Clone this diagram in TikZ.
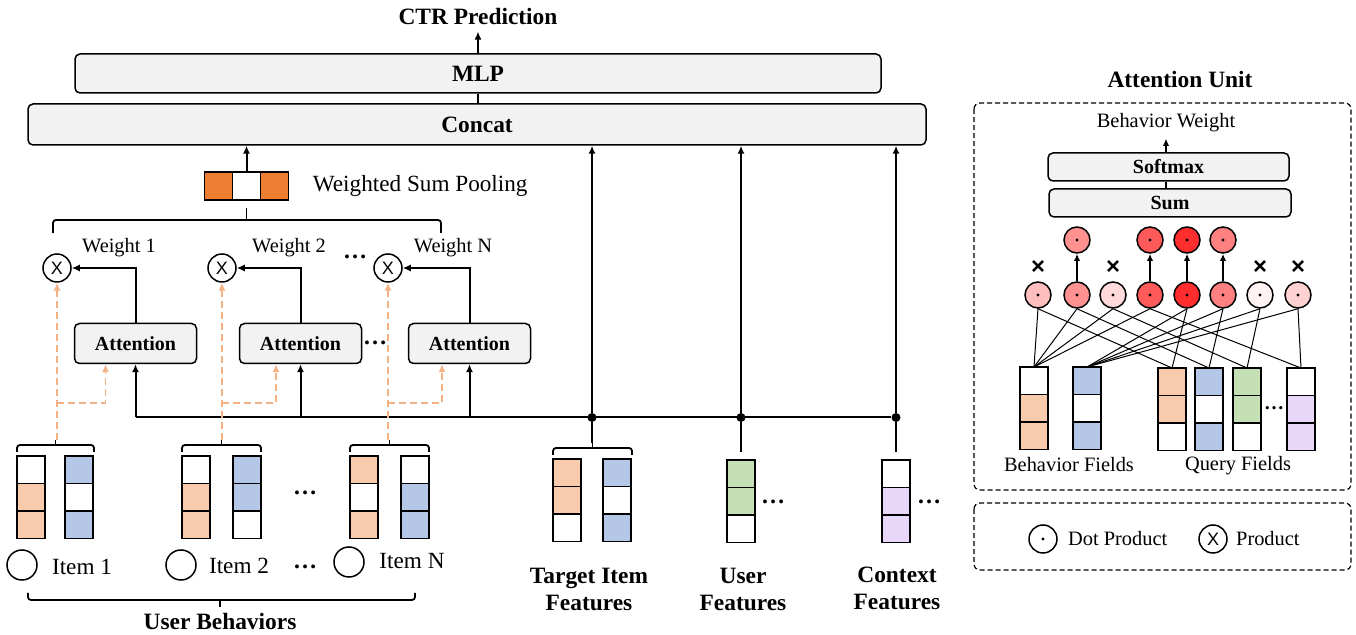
\documentclass[tikz,border=0pt]{standalone}
\usepackage{fontspec}
\setmainfont{Liberation Serif}
\newfontfamily\xsans{Liberation Sans}
\usetikzlibrary{positioning,arrows.meta}

\definecolor{boxgray}{RGB}{242,242,242}
\definecolor{cOr}{RGB}{248,203,173}
\definecolor{cBl}{RGB}{180,199,231}
\definecolor{cGr}{RGB}{197,224,180}
\definecolor{cPu}{RGB}{233,215,250}
\definecolor{poolor}{RGB}{237,125,49}
\definecolor{dashor}{RGB}{244,177,131}
\definecolor{heat1}{RGB}{255,190,190}
\definecolor{heat2}{RGB}{255,145,145}
\definecolor{heat3}{RGB}{255,218,218}
\definecolor{heat4}{RGB}{255,90,90}
\definecolor{heat5}{RGB}{255,45,45}
\definecolor{heat6}{RGB}{255,128,128}
\definecolor{heat7}{RGB}{255,242,242}
\definecolor{heat8}{RGB}{255,210,210}

\newcommand{\bigbf}{\fontsize{11.7}{13.5}\selectfont\bfseries}
\newcommand{\bigrm}{\fontsize{11.6}{13.5}\selectfont}
\newcommand{\midrm}{\fontsize{10.2}{12}\selectfont}
\newcommand{\smbf}{\fontsize{10}{12}\selectfont\bfseries}

\tikzset{
  blk/.style={draw, fill=boxgray, rounded corners=2.5pt, line width=0.75pt, inner sep=0pt},
  cell/.style={draw, line width=0.75pt, minimum width=14pt, minimum height=13.75pt, inner sep=0pt, outer sep=0pt},
  pool/.style={draw, line width=0.75pt, minimum width=14pt, minimum height=14pt, inner sep=0pt, outer sep=0pt},
  arr/.style={-{Latex[length=4pt,width=3.6pt]}, line width=1pt},
  thinarr/.style={-{Latex[length=3.6pt,width=3.2pt]}, line width=0.8pt},
  bus/.style={line width=1pt},
  brk/.style={line width=0.9pt, rounded corners=1.5pt},
  dasharr/.style={-{Latex[length=4pt,width=3.6pt]}, draw=dashor, line width=0.9pt, dash pattern=on 3.5pt off 2pt},
  prod/.style={draw, circle, minimum size=14pt, inner sep=0pt, line width=0.75pt, font=\xsans\fontsize{9}{9}\selectfont},
  dotc/.style={draw, circle, minimum size=13pt, inner sep=0pt, line width=0.75pt,
    path picture={\fill[black] (path picture bounding box.center) circle (0.8pt);}},
  itemc/.style={draw, circle, minimum size=15pt, inner sep=0pt, line width=0.75pt},
  jdot/.style={circle, fill, minimum size=4.5pt, inner sep=0pt},
  dotsn/.style={font=\fontsize{12}{12}\selectfont\bfseries, inner sep=1pt},
  xmark/.style={font=\xsans\bfseries\fontsize{12}{12}\selectfont, inner sep=0pt},
  frame/.style={line width=0.6pt, dash pattern=on 2.5pt off 1.5pt, rounded corners=3pt},
  link/.style={line width=0.5pt},
}

\newcommand{\fieldcol}[5]{%
  \node[cell, fill=#3, anchor=north west] (#1-1) at (#2) {};
  \node[cell, fill=#4, below=0pt of #1-1] (#1-2) {};
  \node[cell, fill=#5, below=0pt of #1-2] (#1-3) {};
}
\newcommand{\topbrk}[4]{%
  \draw[brk] (#1,#3+7) -- (#1,#3) -- (#2,#3) -- (#2,#3+7);
  \draw[brk] ({(#1+#2)/2},#3) -- ({(#1+#2)/2},#3-5) coordinate (#4);
}

\begin{document}
\begin{tikzpicture}[x=0.5pt, y=-0.5pt, inner sep=3pt]
\useasboundingbox (0,0) rectangle (1356,635);

% prediction head
\node[blk, minimum width=449pt, minimum height=20.5pt, font=\bigbf] (concat) at (477,124.5) {Concat};
\node[blk, minimum width=403pt, minimum height=19.5pt, font=\bigbf] (mlp) at (478,73.5) {MLP};
\node[font=\bigbf] (ctr) at (478,17) {CTR Prediction};
\draw[arr] (mlp.north) -- (ctr.south);
\draw[bus] (mlp.south) -- (mlp.south |- concat.north);

% pooling
\node[pool, fill=white] (p2) at (246.5,186) {};
\node[pool, fill=poolor, left=0pt of p2] (p1) {};
\node[pool, fill=poolor, right=0pt of p2] (p3) {};
\node[font=\bigrm, right=9pt of p3] (pooltxt) {Weighted Sum Pooling};
\draw[arr] (p2.north) -- (p2.north |- concat.south);
\draw[brk] (53,233) -- (53,220) -- (441,220) -- (441,233);
\draw[brk] (246.5,220) -- (246.5,208);

% attention blocks
\node[blk, minimum width=61pt, minimum height=20pt, font=\smbf] (att1) at (135.5,343.5) {Attention};
\node[blk, minimum width=61pt, minimum height=20pt, font=\smbf] (att2) at (300.5,343.5) {Attention};
\node[blk, minimum width=61pt, minimum height=20pt, font=\smbf] (att3) at (469.5,343.5) {Attention};
\node[prod] (x1) at (57,268) {X};
\node[prod] (x2) at (222,268) {X};
\node[prod] (x3) at (388,268) {X};
\node[font=\midrm] (w1) at (119,248) {Weight 1};
\node[font=\midrm] (w2) at (289,248) {Weight 2};
\node[font=\midrm] (w3) at (453,248) {Weight N};
\node[dotsn] (e1) at (355,257) {…};
\node[dotsn] (e2) at (375,343) {…};
\draw[arr] (att1.north) |- (x1.east);
\draw[arr] (att2.north) |- (x2.east);
\draw[arr] (att3.north) |- (x3.east);

% bus
\node[jdot] (d1) at (592,417.5) {};
\node[jdot] (d2) at (741,417.5) {};
\node[jdot] (d3) at (896,417.5) {};
\draw[bus] (att1.south |- d1) -- (d3);
\foreach \a in {att1,att2,att3} \draw[arr] (\a.south |- d1) -- (\a.south);
\foreach \d in {d1,d2,d3} \draw[arr] (\d) -- (\d |- concat.south);

% user behaviors
\fieldcol{ia}{17,456}{white}{cOr}{cOr}
\fieldcol{ib}{65,456}{cBl}{white}{cBl}
\fieldcol{ja}{182,456}{white}{cOr}{cOr}
\fieldcol{jb}{233,456}{cBl}{cBl}{white}
\fieldcol{ka}{350,456}{cOr}{white}{cOr}
\fieldcol{kb}{401,456}{white}{cBl}{cBl}
\topbrk{17}{94}{445}{b1}
\topbrk{182}{261}{445}{b2}
\topbrk{350}{429}{445}{b3}
\coordinate (dl) at (0,403);
\draw[dasharr] (x1 |- b1) -- (x1.south);
\draw[dasharr] (x2 |- b2) -- (x2.south);
\draw[dasharr] (x3 |- b3) -- (x3.south);
\draw[dasharr] (x1 |- dl) -| ([xshift=-15pt]att1.south);
\draw[dasharr] (x2 |- dl) -| ([xshift=-12.25pt]att2.south);
\draw[dasharr] (x3 |- dl) -| ([xshift=-13.75pt]att3.south);
\node[dotsn] (e3) at (305,493) {…};
\node[itemc] (o1) at (22,565) {};
\node[itemc] (o2) at (181,565) {};
\node[itemc] (o3) at (349,562) {};
\node[font=\bigrm] (l1) at (82,567) {Item 1};
\node[font=\bigrm] (l2) at (239,566) {Item 2};
\node[font=\bigrm] (l3) at (412,561) {Item N};
\node[dotsn] (e4) at (305,567) {…};
\draw[brk] (28,593) -- (28,600) -- (415,600) -- (415,593);
\draw[brk] (220,600) -- (220,607);
\node[font=\bigbf] (ub) at (220,621) {User Behaviors};

% other features
\fieldcol{ta}{553,459}{cOr}{cOr}{white}
\fieldcol{tbb}{603,459}{cBl}{white}{cBl}
\fieldcol{uf}{727,460}{cGr}{cGr}{white}
\fieldcol{cf}{882,460}{white}{cPu}{cPu}
\topbrk{553}{632}{448}{tb}
\draw[bus] (d1) -- (d1 |- tb);
\draw[bus] (d2) -- ([yshift=4pt]d2 |- uf-1.north);
\draw[bus] (d3) -- ([yshift=4pt]d3 |- cf-1.north);
\node[dotsn] (e5) at (773,502) {…};
\node[dotsn] (e6) at (929,502) {…};
\node[font=\bigbf, align=center] (tl) at (589,589) {Target Item\\Features};
\node[font=\bigbf, align=center] (ul) at (743,589) {User\\Features};
\node[font=\bigbf, align=center] (cl) at (897,588) {Context\\Features};

% attention unit
\node[font=\bigbf] (autitle) at (1180,80) {Attention Unit};
\draw[frame] (974,103) rectangle (1351,490);
\node[font=\midrm] (bw) at (1166,123) {Behavior Weight};
\node[blk, minimum width=120.5pt, minimum height=14pt, font=\smbf] (soft) at (1168.5,167) {Softmax};
\node[blk, minimum width=121pt, minimum height=14pt, font=\smbf] (sum) at (1170,203) {Sum};
\draw[line width=0.75pt] (sum.north -| bw) -- (soft.south -| bw);
\draw[thinarr] (soft.north -| bw) -- (bw.south);
\foreach \i/\x in {1/1038,2/1077,3/1113,4/1150,5/1187,6/1223,7/1260,8/1298}
  \node[dotc, fill=heat\i] (c\i) at (\x,295) {};
\foreach \i in {2,4,5,6} {
  \node[dotc, fill=heat\i] (t\i) at (c\i.center |- 0,240) {};
  \draw[thinarr] (c\i.north) -- (t\i.south);
}
\foreach \i in {1,3,7,8}
  \node[xmark] (m\i) at (c\i.center |- 0,268) {×};
\fieldcol{bf1}{1020,367}{white}{cOr}{cOr}
\fieldcol{bf2}{1073,367}{cBl}{white}{cBl}
\fieldcol{qa}{1158,368}{cOr}{cOr}{white}
\fieldcol{qb}{1195,368}{cBl}{white}{cBl}
\fieldcol{qc}{1233,368}{cGr}{cGr}{white}
\fieldcol{qd}{1287,368}{white}{cPu}{cPu}
\foreach \i/\q in {1/qa,2/qb,3/qc,4/qd} {
  \draw[link] (c\i.south) -- (bf1-1.north);
  \draw[link] (c\i.south) -- (\q-1.north);
}
\foreach \i/\q in {5/qa,6/qb,7/qc,8/qd} {
  \draw[link] (c\i.south) -- (bf2-1.north);
  \draw[link] (c\i.south) -- (\q-1.north);
}
\node[dotsn, font=\fontsize{10}{10}\selectfont\bfseries] (e7) at (1274,408) {…};
\node[font=\midrm] (bfl) at (1069,465) {Behavior Fields};
\node[font=\midrm] (qfl) at (1238,466) {Query Fields};

% legend
\draw[frame] (974,503) rectangle (1351,570);
\node[dotc, minimum size=14pt] (lg1) at (1043,539) {};
\node[font=\midrm, right=2pt of lg1] (lgt1) {Dot Product};
\node[prod] (lg2) at (1213,539) {X};
\node[font=\midrm, right=1pt of lg2] (lgt2) {Product};
%\node[font=\midrm] at (1180,600) {};
\end{tikzpicture}
\end{document}
